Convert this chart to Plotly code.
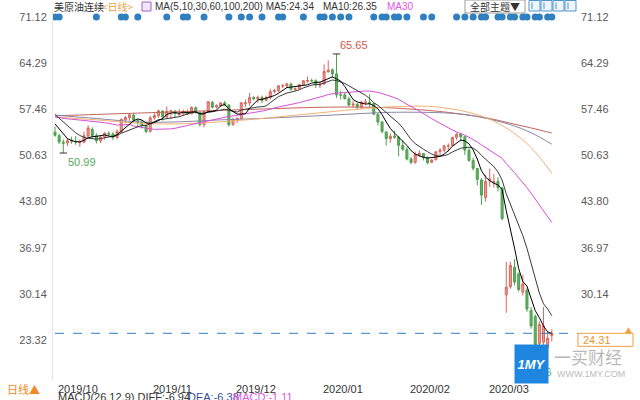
import plotly.graph_objects as go
import pandas as pd

W, H = 640, 400
ML, MR, MT, MB = 53, 68, 10, 20
PW, PH = W - ML - MR, H - MT - MB

# ---------------- data ----------------
# closes before the visible window (used only for the moving averages)
prior_closes = [56.21, 56.34, 55.68, 55.35, 54.17, 53.64, 54.93, 55.78, 56.71, 55.10,
                53.94, 56.26, 56.30, 56.52, 57.85, 57.40, 55.75, 55.09, 54.85, 62.90,
                59.34, 58.11, 58.13, 58.09, 58.64, 57.29, 56.49, 56.41, 55.91, 54.07]

opens = [54.07, 53.57, 52.59, 52.49, 52.88, 52.70, 52.50, 52.60, 53.50, 54.50,
         53.60, 52.80, 53.35, 53.90, 53.80, 53.30, 54.10, 55.90, 56.20, 56.60,
         55.80, 55.50, 55.00, 54.20, 56.20, 56.50, 57.20, 56.30, 57.10, 57.20,
         56.70, 56.80, 57.10, 56.80, 57.70, 57.00, 55.20, 57.10, 58.50, 57.80,
         58.00, 58.40, 58.10, 55.20, 55.90, 56.10, 58.30, 58.40, 59.20, 59.00,
         59.20, 58.80, 59.20, 60.10, 60.20, 60.90, 60.90, 61.20, 60.40, 60.50,
         61.10, 61.60, 61.70, 61.70, 61.00, 61.20, 63.00, 63.30, 62.70, 59.60,
         59.60, 59.00, 58.10, 58.20, 57.80, 58.50, 58.50, 58.30, 56.70, 55.60,
         54.10, 53.10, 53.50, 53.30, 52.10, 51.50, 50.10, 49.60, 50.70, 50.90,
         50.30, 49.60, 50.00, 51.20, 51.40, 52.00, 52.10, 53.30, 53.80, 53.40,
         51.40, 49.90, 48.70, 47.00, 44.40, 46.90, 46.60, 46.80, 45.80, 30.00,
         31.20, 34.10, 33.10, 30.40, 30.70, 27.70, 26.80, 22.80, 23.00, 22.20,
         24.00]
highs = [54.90, 53.85, 52.98, 53.20, 53.40, 53.50, 53.00, 54.17, 55.10, 54.80,
         53.90, 53.60, 54.10, 54.20, 54.10, 54.50, 56.10, 56.50, 56.90, 56.90,
         56.00, 55.90, 55.40, 56.50, 56.90, 57.40, 57.30, 57.90, 57.40, 57.30,
         57.50, 57.40, 57.40, 57.90, 57.90, 57.10, 57.30, 58.70, 58.70, 58.20,
         58.50, 58.70, 58.20, 56.20, 56.30, 58.50, 58.90, 59.90, 59.40, 59.50,
         59.50, 59.50, 60.50, 60.50, 61.00, 61.20, 61.40, 61.40, 60.70, 61.20,
         61.80, 62.30, 62.00, 61.90, 61.60, 64.10, 64.70, 63.50, 65.65, 60.20,
         59.90, 59.30, 58.70, 58.40, 58.70, 59.00, 59.70, 58.40, 56.90, 55.70,
         54.20, 53.90, 54.30, 53.50, 52.90, 51.90, 50.40, 51.20, 51.40, 51.00,
         50.50, 50.10, 51.30, 51.70, 52.20, 52.40, 53.40, 54.00, 53.90, 53.50,
         51.70, 50.30, 48.80, 47.30, 47.80, 48.70, 47.90, 47.40, 46.00, 34.88,
         34.90, 35.30, 33.30, 33.00, 31.00, 28.20, 27.10, 26.10, 28.20, 24.60,
         24.90]
lows = [53.41, 52.31, 50.99, 52.00, 52.35, 52.20, 51.91, 52.45, 53.40, 53.10,
        52.40, 52.45, 52.95, 53.50, 52.90, 53.00, 53.90, 55.40, 55.80, 55.50,
        54.80, 54.60, 53.90, 54.00, 55.90, 56.20, 55.80, 56.20, 56.00, 56.20,
        56.40, 56.50, 56.60, 56.70, 56.80, 54.90, 54.80, 56.90, 57.60, 57.60,
        57.80, 57.90, 54.90, 55.00, 55.40, 56.00, 57.80, 58.00, 58.80, 58.40,
        58.40, 58.60, 58.90, 59.80, 60.00, 60.60, 60.60, 60.20, 60.20, 60.40,
        61.00, 61.40, 61.50, 60.60, 60.60, 61.10, 62.90, 62.10, 59.15, 58.90,
        58.90, 57.90, 57.70, 57.40, 57.50, 58.10, 57.70, 56.60, 55.10, 53.90,
        52.10, 52.50, 53.10, 50.50, 51.30, 49.90, 49.30, 49.40, 50.40, 49.90,
        49.30, 49.50, 49.90, 50.50, 51.10, 51.20, 52.00, 52.90, 52.70, 50.70,
        49.70, 48.40, 46.20, 43.32, 43.80, 46.00, 45.90, 45.30, 41.05, 27.34,
        30.90, 31.40, 30.50, 29.90, 27.50, 25.00, 22.20, 22.30, 22.60, 20.06,
        23.10]
closes = [53.62, 52.64, 52.45, 52.81, 52.75, 52.63, 52.59, 53.55, 54.70, 53.59,
          52.81, 53.36, 53.93, 53.78, 53.31, 54.16, 55.97, 56.23, 56.66, 55.81,
          55.54, 55.06, 54.18, 56.20, 56.54, 57.23, 56.35, 57.15, 57.24, 56.86,
          56.80, 57.12, 56.77, 57.72, 57.05, 55.21, 57.11, 58.58, 57.77, 58.01,
          58.41, 58.11, 55.17, 55.96, 56.10, 58.43, 58.43, 59.20, 59.02, 59.24,
          58.76, 59.18, 60.07, 60.21, 60.94, 60.93, 61.22, 60.44, 60.52, 61.11,
          61.68, 61.72, 61.68, 61.06, 61.18, 63.05, 63.27, 62.70, 59.61, 59.56,
          59.04, 58.08, 58.23, 57.81, 58.52, 58.54, 58.34, 56.74, 55.59, 54.19,
          53.14, 53.48, 53.33, 52.14, 51.56, 50.11, 49.61, 50.75, 50.95, 50.32,
          49.57, 49.94, 51.17, 51.42, 52.05, 52.05, 53.29, 53.78, 53.38, 51.43,
          49.90, 48.73, 47.09, 44.76, 46.75, 47.18, 46.78, 45.90, 41.28, 31.13,
          34.36, 31.90, 30.80, 31.60, 27.90, 25.40, 22.60, 25.60, 25.40, 23.60,
          24.31]

# long moving averages (index, value)
ma_long_idx = [0, 10, 20, 30, 40, 50, 60, 70, 80, 90, 95, 100, 105, 110, 115, 120]
ma60_vals = [56.3, 55.9, 55.4, 55.3, 55.6, 56.1, 56.7, 57.3, 57.8, 57.9, 57.6, 57.0, 56.0, 54.3, 51.8, 48.0]
ma100_vals = [56.6, 56.1, 55.6, 55.6, 55.9, 56.1, 56.4, 56.7, 57.0, 57.0, 56.9, 56.6, 56.0, 55.2, 54.0, 52.3]
ma200_vals = [56.5, 56.7, 56.9, 57.1, 57.3, 57.5, 57.7, 57.8, 57.7, 57.3, 57.0, 56.6, 56.1, 55.4, 54.7, 53.95]

event_idx = [0, 1, 10, 16, 17, 20, 27, 31, 32, 36, 42, 45, 47, 50, 54, 55, 60, 64, 65, 67,
             69, 71, 77, 79, 80, 82, 83, 85, 89, 91, 97, 99, 101, 103, 104, 107, 108, 110,
             111, 113, 114, 116, 117, 119, 120]

y_ticks = [71.12, 64.29, 57.46, 50.63, 43.80, 36.97, 30.14, 23.32]
y_tick_text = ["71.12", "64.29", "57.46", "50.63", "43.80", "36.97", "30.14", "23.32"]
month_labels = ["2019/10", "2019/11", "2019/12", "2020/01", "2020/02", "2020/03"]
month_start_idx = [0, 23, 43, 64, 85, 104]

last_price = 24.31
max_idx, max_val = 68, 65.65
min_idx_a, min_val_a = 2, 50.99
min_idx_b, min_val_b = 119, 20.06

# ---------------- derived ----------------
n = len(closes)
idx = list(range(n))
allc = pd.Series(prior_closes + closes)
p = len(prior_closes)
ma5 = allc.rolling(5).mean().iloc[p:].tolist()
ma10 = allc.rolling(10).mean().iloc[p:].tolist()
ma30 = allc.rolling(30).mean().iloc[p:].tolist()

# y mapping: y px 17 -> 71.12, y px 340 -> 23.32
k = (340 - 17) / (71.12 - 23.32)
y_top = 71.12 + (17 - MT) / k
y_bot = 71.12 - (H - MB - 17) / k
# x mapping: candle i at px 55 + 4.14*i
x_left = (ML - 55) / 4.14
x_right = (W - MR - 55) / 4.14


def px(x):
    return (x - ML) / PW


def py(y):
    return (H - MB - y) / PH


fig = go.Figure()

fig.add_trace(go.Candlestick(
    x=idx, open=opens, high=highs, low=lows, close=closes,
    increasing=dict(line=dict(color="#d8665e", width=1), fillcolor="#eb9c94"),
    decreasing=dict(line=dict(color="#4e9e4e", width=1), fillcolor="#63b063"),
    whiskerwidth=0, showlegend=False, hoverinfo="skip"))

line_specs = [
    (ma_long_idx, ma200_vals, "#c4645c", "spline"),
    (ma_long_idx, ma100_vals, "#8a86a6", "spline"),
    (ma_long_idx, ma60_vals, "#f2b274", "spline"),
    (idx, ma30, "#d64fd6", "linear"),
    (idx, ma10, "#3a3a3a", "linear"),
    (idx, ma5, "#000000", "linear"),
]
for xs, ys, col, shp in line_specs:
    fig.add_trace(go.Scatter(x=xs, y=ys, mode="lines", line=dict(color=col, width=1, shape=shp),
                             showlegend=False, hoverinfo="skip"))

fig.add_trace(go.Scatter(x=event_idx, y=[71.12] * len(event_idx), yaxis="y2", mode="markers",
                         marker=dict(color="#2f7fc1", size=7), showlegend=False, hoverinfo="skip"))

tickfont = dict(family="Liberation Sans, Arial", size=11, color="#5a5a5a")
fig.update_layout(
    width=W, height=H, margin=dict(l=ML, r=MR, t=MT, b=MB, autoexpand=False),
    paper_bgcolor="white", plot_bgcolor="white",
    xaxis=dict(range=[x_left, x_right], showgrid=False, zeroline=False, showticklabels=False,
               rangeslider=dict(visible=False), showline=False, fixedrange=True, automargin=False),
    yaxis=dict(range=[y_bot, y_top], tickvals=y_ticks, ticktext=y_tick_text, showgrid=False,
               zeroline=False, side="left", tickfont=tickfont, showline=True, linecolor="#e6e6e6",
               ticks="", ticklabelstandoff=3, automargin=False),
    yaxis2=dict(range=[y_bot, y_top], tickvals=y_ticks, ticktext=y_tick_text, showgrid=False,
                zeroline=False, side="right", overlaying="y", tickfont=tickfont, ticks="",
                ticklabelstandoff=8, showline=False, automargin=False),
)

shapes = []
# high / low markers
for i, v in [(max_idx, max_val), (min_idx_a, min_val_a)]:
    shapes.append(dict(type="line", xref="x", yref="y", x0=i - 0.9, x1=i + 0.9, y0=v, y1=v,
                       line=dict(color="#333333", width=1)))
# last price line and tag
shapes.append(dict(type="line", xref="paper", yref="y", x0=px(55), x1=px(578), y0=last_price, y1=last_price,
                   line=dict(color="#2f7fc1", width=1, dash="dash")))
shapes.append(dict(type="rect", xref="paper", yref="y", x0=px(578), x1=px(633), y0=last_price - 13 / k,
                   y1=last_price, line=dict(color="#f0a040", width=1), fillcolor="white"))
# legend icon
shapes.append(dict(type="rect", xref="paper", yref="paper", x0=px(142), x1=px(151), y0=py(11), y1=py(2),
                   line=dict(color="#9a62c8", width=1), fillcolor="#f1e6fb"))
# theme box & tool icons
shapes.append(dict(type="rect", xref="paper", yref="paper", x0=px(465), x1=px(525), y0=py(13), y1=py(0),
                   line=dict(color="#9a9a9a", width=1), fillcolor="white"))
for a in [529, 541, 553, 565]:
    shapes.append(dict(type="rect", xref="paper", yref="paper", x0=px(a), x1=px(a + 11), y0=py(11), y1=py(0.5),
                       line=dict(color="#4f93d2", width=1), fillcolor="#eef5fc"))
    shapes.append(dict(type="line", xref="paper", yref="paper", x0=px(a + 3), x1=px(a + 3), y0=py(9), y1=py(2.5),
                       line=dict(color="#4f93d2", width=1)))
fig.update_layout(shapes=shapes)

cjk = "Noto Sans CJK SC, Liberation Sans"
lat = "Liberation Sans, Arial"
ann = []


def txt(x, y, s, color="#333333", size=11, xanchor="left", font=cjk, **kw):
    ann.append(dict(xref="paper", yref="paper", x=px(x), y=py(y), text=s, showarrow=False,
                    xanchor=xanchor, yanchor="middle", font=dict(family=font, size=size, color=color), **kw))


txt(52, 6, "美原油连续", size=10)
txt(100, 6, "<日线>", color="#f0a040", size=10)
txt(153, 6, "MA(5,10,30,60,100,200) MA5:24.34", size=10, font=lat)
txt(321, 6, "MA10:26.35", size=10, font=lat)
txt(385, 6, "MA30", color="#e055e0", size=10, font=lat)
txt(495, 6, "全部主题▼", size=10, xanchor="center")

# high / low labels (data coordinates)
ann.append(dict(xref="x", yref="y", x=max_idx, y=max_val, text="65.65", showarrow=False, xanchor="left",
                yanchor="bottom", xshift=1, yshift=1, font=dict(family=lat, size=11, color="#d0584f")))
ann.append(dict(xref="x", yref="y", x=min_idx_a, y=min_val_a, text="50.99", showarrow=False, xanchor="left",
                yanchor="top", xshift=3, yshift=-1, font=dict(family=lat, size=11, color="#5aa85a")))
ann.append(dict(xref="x", yref="y", x=min_idx_b, y=min_val_b, text="20.06", showarrow=False, xanchor="right",
                yanchor="top", xshift=6, yshift=-2, font=dict(family=lat, size=11, color="#5aa85a")))
# last price tag text
ann.append(dict(xref="paper", yref="y", x=px(581), y=last_price - 6.5 / k, text=f"{last_price:.2f}",
                showarrow=False, xanchor="left", yanchor="middle", font=dict(family=lat, size=11, color="#e8962e")))
txt(629, 330, "▲", color="#f0a040", size=7, xanchor="center")

# month labels (x axis)
for lab, i in zip(month_labels, month_start_idx):
    ann.append(dict(xref="x", yref="paper", x=i, y=py(389), text=lab, showarrow=False, xanchor="left",
                    yanchor="middle", xshift=1, font=dict(family=lat, size=11, color="#333333")))
txt(5, 389, "日线▲", color="#f08a24", size=11)
txt(56, 397, "MACD(26,12,9) DIFF:-6.94", color="#333333", size=11, font=lat)
txt(186, 397, "DEA:-6.38", color="#34509c", size=11, font=lat)
txt(231, 397, "MACD:-1.11", color="#e055e0", size=11, font=lat)

# watermark
ann.append(dict(xref="paper", yref="paper", x=px(531), y=py(364), text="<b><i>1MY</i></b>", showarrow=False,
                xanchor="center", yanchor="middle", width=33, height=38, borderpad=0, bgcolor="#1f86e0",
                font=dict(family=lat, size=13, color="white")))
txt(552, 356, "一买财经", color="rgba(160,160,160,0.75)", size=17)
txt(555, 374, "WWW.1MY.COM", color="rgba(160,160,160,0.75)", size=9, font=lat)

fig.update_layout(annotations=ann)
fig.write_html("out.html", config={"displayModeBar": False, "staticPlot": True},
               post_script="document.body.style.margin='0';document.body.style.overflow='hidden';")
